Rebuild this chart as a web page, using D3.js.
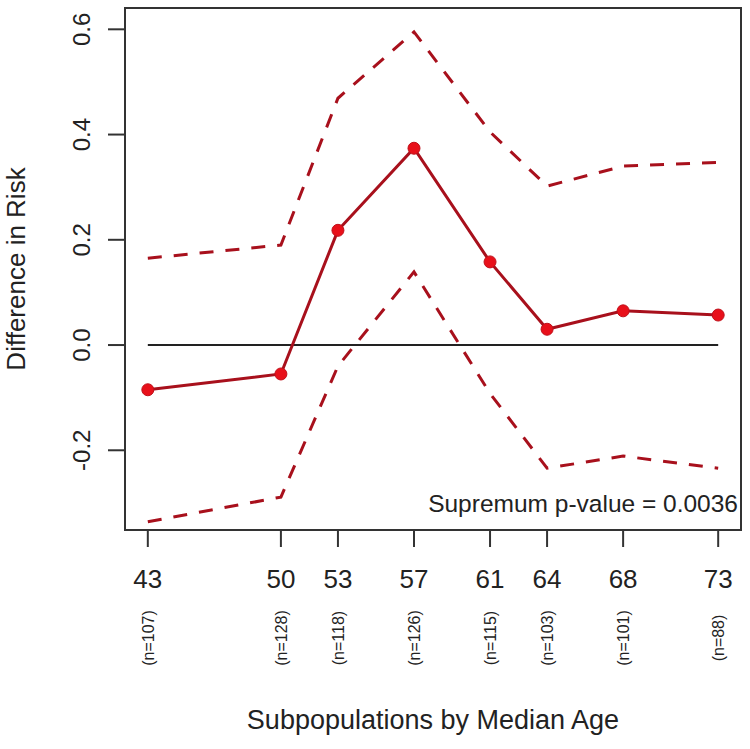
<!DOCTYPE html>
<html>
<head>
<meta charset="utf-8">
<script src="https://cdn.jsdelivr.net/npm/d3@7"></script>
<style>
  html, body { margin: 0; padding: 0; background: #fff; }
  svg { display: block; font-family: "Liberation Sans", Arial, sans-serif; }
</style>
</head>
<body>
<svg id="chart" width="750" height="749"></svg>
<script>
// ---- data ----
const ages = [43, 50, 53, 57, 61, 64, 68, 73];
const nLabels = ["(n=107)", "(n=128)", "(n=118)", "(n=126)", "(n=115)", "(n=103)", "(n=101)", "(n=88)"];
const diffRisk = [-0.085, -0.055, 0.218, 0.374, 0.158, 0.030, 0.065, 0.057];
const upperBand = [0.165, 0.190, 0.469, 0.595, 0.405, 0.302, 0.340, 0.347];
const lowerBand = [-0.336, -0.289, -0.040, 0.139, -0.092, -0.234, -0.211, -0.234];
const yTicks = [-0.2, 0.0, 0.2, 0.4, 0.6];
const yTickLabels = ["-0.2", "0.0", "0.2", "0.4", "0.6"];
const annotation = "Supremum p-value = 0.0036";
const xTitle = "Subpopulations by Median Age";
const yTitle = "Difference in Risk";

// ---- layout ----
const svg = d3.select("#chart");
const L = 125, R = 741, T = 8, B = 530;
const x = d3.scaleLinear().domain([41.8, 74.2]).range([L, R]);
const y = d3.scaleLinear().domain([-0.3515, 0.6405]).range([B, T]);

const lineColor = "#a8101c";
const ptColor = "#e8101a";
const textColor = "#222";

// zero reference line
svg.append("line")
  .attr("x1", x(ages[0])).attr("x2", x(ages[ages.length - 1]))
  .attr("y1", y(0)).attr("y2", y(0))
  .attr("stroke", "#222").attr("stroke-width", 2);

const line = d3.line().x((d, i) => x(ages[i])).y(d => y(d));

// confidence bands (dashed)
[upperBand, lowerBand].forEach(arr => {
  svg.append("path")
    .attr("d", line(arr))
    .attr("fill", "none")
    .attr("stroke", lineColor)
    .attr("stroke-width", 3)
    .attr("stroke-dasharray", "14,12");
});

// estimate line
svg.append("path")
  .attr("d", line(diffRisk))
  .attr("fill", "none")
  .attr("stroke", lineColor)
  .attr("stroke-width", 3);

svg.selectAll("circle.pt").data(diffRisk).enter().append("circle")
  .attr("class", "pt")
  .attr("cx", (d, i) => x(ages[i]))
  .attr("cy", d => y(d))
  .attr("r", 6)
  .attr("fill", ptColor)
  .attr("stroke", "#c0101a")
  .attr("stroke-width", 1);

// frame
svg.append("rect")
  .attr("x", L).attr("y", T).attr("width", R - L).attr("height", B - T)
  .attr("fill", "none").attr("stroke", "#333").attr("stroke-width", 2);

// y axis ticks + labels
const yAxis = svg.append("g");
yAxis.selectAll("line").data(yTicks).enter().append("line")
  .attr("x1", L - 17).attr("x2", L)
  .attr("y1", d => y(d)).attr("y2", d => y(d))
  .attr("stroke", "#333").attr("stroke-width", 2);
yAxis.selectAll("text").data(yTicks).enter().append("text")
  .attr("transform", d => `translate(90,${y(d)}) rotate(-90)`)
  .attr("text-anchor", "middle")
  .attr("font-size", 24)
  .attr("fill", textColor)
  .text((d, i) => yTickLabels[i]);

// x axis ticks + labels
const xAxis = svg.append("g");
xAxis.selectAll("line").data(ages).enter().append("line")
  .attr("x1", d => x(d)).attr("x2", d => x(d))
  .attr("y1", B).attr("y2", B + 17)
  .attr("stroke", "#333").attr("stroke-width", 2);
xAxis.selectAll("text.age").data(ages).enter().append("text")
  .attr("class", "age")
  .attr("x", d => x(d)).attr("y", 588)
  .attr("text-anchor", "middle")
  .attr("font-size", 26)
  .attr("fill", textColor)
  .text(d => d);
xAxis.selectAll("text.n").data(ages).enter().append("text")
  .attr("class", "n")
  .attr("transform", d => `translate(${x(d) + 6},638) rotate(-90)`)
  .attr("text-anchor", "middle")
  .attr("font-size", 16)
  .attr("fill", textColor)
  .text((d, i) => nLabels[i]);

// annotation
svg.append("text")
  .attr("x", 738).attr("y", 512)
  .attr("text-anchor", "end")
  .attr("font-size", 24.5)
  .attr("fill", textColor)
  .text(annotation);

// axis titles
svg.append("text")
  .attr("x", (L + R) / 2).attr("y", 729)
  .attr("text-anchor", "middle")
  .attr("font-size", 27)
  .attr("fill", textColor)
  .text(xTitle);
svg.append("text")
  .attr("transform", `translate(25,${(T + B) / 2}) rotate(-90)`)
  .attr("text-anchor", "middle")
  .attr("font-size", 26)
  .attr("fill", textColor)
  .text(yTitle);
</script>
</body>
</html>
